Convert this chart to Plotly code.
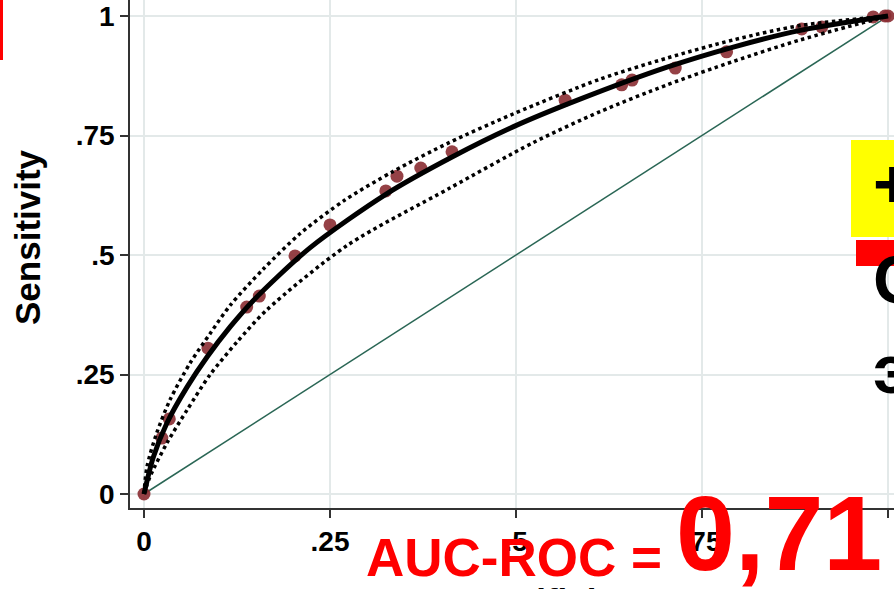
import plotly.graph_objects as go

# ---- data ----
tick_vals = [0, 0.25, 0.5, 0.75, 1]
tick_text = ["0", ".25", ".5", ".75", "1"]

# empirical ROC points (1 - specificity, sensitivity)
pts_x = [0, 0.024, 0.034, 0.086, 0.138, 0.155, 0.203, 0.25, 0.325, 0.340, 0.372, 0.414,
         0.566, 0.642, 0.656, 0.714, 0.783, 0.884, 0.911, 0.98, 0.996, 1.0]
pts_y = [0, 0.117, 0.157, 0.305, 0.391, 0.414, 0.498, 0.563, 0.634, 0.665, 0.682, 0.716,
         0.824, 0.856, 0.866, 0.891, 0.925, 0.973, 0.977, 0.998, 1.0, 1.0]

# fitted ROC curve
fit_x = [0, 0.0125, 0.031, 0.058, 0.085, 0.116, 0.147, 0.223, 0.325, 0.414, 0.496,
         0.586, 0.703, 0.792, 0.882, 1.0]
fit_y = [0, 0.077, 0.149, 0.224, 0.287, 0.350, 0.405, 0.515, 0.627, 0.705, 0.768,
         0.826, 0.893, 0.935, 0.970, 1.0]

# upper confidence band
up_x = [0, 0.004, 0.017, 0.035, 0.062, 0.089, 0.116, 0.160, 0.210, 0.270, 0.335,
        0.410, 0.496, 0.613, 0.703, 0.792, 0.882, 1.0]
up_y = [0, 0.057, 0.127, 0.197, 0.274, 0.336, 0.395, 0.470, 0.545, 0.615, 0.675,
        0.735, 0.795, 0.868, 0.912, 0.950, 0.980, 1.0]

# lower confidence band
lo_x = [0, 0.008, 0.031, 0.058, 0.089, 0.125, 0.165, 0.273, 0.411, 0.523,
        0.613, 0.703, 0.792, 0.882, 1.0]
lo_y = [0, 0.036, 0.107, 0.176, 0.250, 0.318, 0.385, 0.520, 0.640, 0.735,
        0.800, 0.856, 0.905, 0.950, 1.0]

ref_x = [0, 1]
ref_y = [0, 1]

y_title = "Sensitivity"
x_title = "1 - Specificity"
auc_label = "AUC-ROC = "
auc_value = "0,71"
side_texts = ["+", "С", "э"]

# ---- figure ----
W, H = 894, 589
ML, MR, MT, MB = 130, 0, 0, 81
PW, PH = W - ML - MR, H - MT - MB


def px(x):
    return (x - ML) / PW


def py(y):
    return (H - MB - y) / PH


FONT = "Liberation Sans, Arial, sans-serif"

fig = go.Figure()
fig.add_trace(go.Scatter(x=ref_x, y=ref_y, mode="lines",
                         line=dict(color="#2a6655", width=1.5), hoverinfo="skip"))
fig.add_trace(go.Scatter(x=pts_x, y=pts_y, mode="markers",
                         marker=dict(color="rgba(138,44,50,0.9)", size=13, line=dict(width=0)),
                         hoverinfo="skip"))
fig.add_trace(go.Scatter(x=up_x, y=up_y, mode="lines",
                         line=dict(color="black", width=3.5, dash="dot", shape="spline", smoothing=0.8),
                         hoverinfo="skip"))
fig.add_trace(go.Scatter(x=lo_x, y=lo_y, mode="lines",
                         line=dict(color="black", width=3.5, dash="dot", shape="spline", smoothing=0.8),
                         hoverinfo="skip"))
fig.add_trace(go.Scatter(x=fit_x, y=fit_y, mode="lines",
                         line=dict(color="black", width=5, shape="spline", smoothing=0.8),
                         hoverinfo="skip"))

axis_common = dict(
    tickmode="array", tickvals=tick_vals, ticktext=tick_text,
    ticks="outside", ticklen=8, tickwidth=1.5, tickcolor="#333",
    showline=True, linecolor="#333", linewidth=1.5,
    showgrid=True, gridcolor="#e3e9e9", gridwidth=2, zeroline=False,
    tickfont=dict(family=FONT, size=28, color="black", weight="bold"),
)

fig.update_layout(
    width=W, height=H, margin=dict(l=ML, r=MR, t=MT, b=MB),
    paper_bgcolor="white", plot_bgcolor="white", showlegend=False,
    xaxis=dict(range=[-0.0188, 1.008], **axis_common),
    yaxis=dict(range=[-0.0293, 1.0335], **axis_common),
)

shapes = [
    # red mark top-left
    dict(type="rect", xref="paper", yref="paper", x0=px(0), x1=px(3), y0=py(60), y1=py(0),
         fillcolor="red", line=dict(width=0), layer="above"),
    # yellow box on right
    dict(type="rect", xref="paper", yref="paper", x0=px(851), x1=px(900), y0=py(237), y1=py(140),
         fillcolor="#ffff00", line=dict(width=0), layer="above"),
    # red bar on right
    dict(type="rect", xref="paper", yref="paper", x0=px(856), x1=px(900), y0=py(266), y1=py(240),
         fillcolor="red", line=dict(width=0), layer="above"),
]
fig.update_layout(shapes=shapes)

ann = []
ann.append(dict(text=y_title, xref="paper", yref="paper", x=px(28), y=py(237), textangle=-90,
                showarrow=False, xanchor="center", yanchor="middle",
                font=dict(family=FONT, size=35, color="black", weight="bold")))
ann.append(dict(text=x_title, xref="paper", yref="paper", x=px(515), y=py(601),
                showarrow=False, xanchor="center", yanchor="middle",
                font=dict(family=FONT, size=35, color="black", weight="bold")))
ann.append(dict(text=auc_label, xref="paper", yref="paper", x=px(365), y=py(557),
                showarrow=False, xanchor="left", yanchor="middle", borderpad=0,
                font=dict(family=FONT, size=53, color="red", weight="bold")))
ann.append(dict(text=auc_value, xref="paper", yref="paper", x=px(675), y=py(533),
                showarrow=False, xanchor="left", yanchor="middle", borderpad=0,
                font=dict(family=FONT, size=106, color="red", weight="bold")))
side_y = [183, 279, 369]
for t, yy in zip(side_texts, side_y):
    ann.append(dict(text=t, xref="paper", yref="paper", x=px(872), y=py(yy),
                    showarrow=False, xanchor="left", yanchor="middle", borderpad=0,
                    font=dict(family=FONT, size=68, color="black", weight="bold")))
fig.update_layout(annotations=ann)

fig.write_html("out.html",
               config={"displayModeBar": False},
               post_script="document.body.style.margin='0';document.body.style.padding='0';")
